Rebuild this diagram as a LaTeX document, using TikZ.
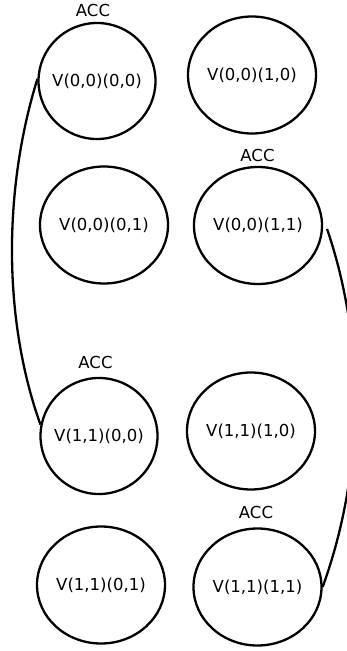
\documentclass[tikz,border=0pt]{standalone}
\usepackage{fontspec}
\setmainfont{DejaVu Sans}
\usetikzlibrary{shapes.geometric}
% label of fixed-size state: zero width so the outline keeps its given size
\newcommand{\statelabel}[1]{\makebox[0pt]{#1}}
\begin{document}
\begin{tikzpicture}[x=1pt,y=-1pt,
  state/.style={ellipse,draw,line width=2.3pt,inner sep=0pt,
    minimum width=128pt,minimum height=117pt,
    font=\fontsize{16.5}{19}\selectfont},
  narrow/.style={minimum width=117pt,minimum height=116pt},
  acc/.style={inner sep=0pt,font=\fontsize{16.5}{19}\selectfont},
  link/.style={line width=2.3pt}]
\useasboundingbox (0,0) rectangle (346,651);

% states
\node[state,narrow] (s0000) at (97,81)    {\statelabel{V(0,0)(0,0)}};
\node[state]        (s0010) at (252,75)   {\statelabel{V(0,0)(1,0)}};
\node[state]        (s0001) at (104,225)  {\statelabel{V(0,0)(0,1)}};
\node[state]        (s0011) at (258,225.5){\statelabel{V(0,0)(1,1)}};
\node[state,narrow] (s1100) at (99,436)   {\statelabel{V(1,1)(0,0)}};
\node[state]        (s1110) at (251,431)  {\statelabel{V(1,1)(1,0)}};
\node[state]        (s1101) at (101,585)  {\statelabel{V(1,1)(0,1)}};
\node[state]        (s1111) at (257.5,587){\statelabel{V(1,1)(1,1)}};

% accepting marks
\node[acc] (a0000) at (93,10)    {ACC};
\node[acc] (a0011) at (257.5,155){ACC};
\node[acc] (a1100) at (95.5,362) {ACC};
\node[acc] (a1111) at (256,512)  {ACC};

% links
\draw[link] (s0000.178) .. controls (3,190) and (3,320) .. (s1100.169);
\draw[link] ([xshift=4pt]s0011.-3) .. controls (365,340) and (365,470) .. (s1111.0);
\end{tikzpicture}
\end{document}
